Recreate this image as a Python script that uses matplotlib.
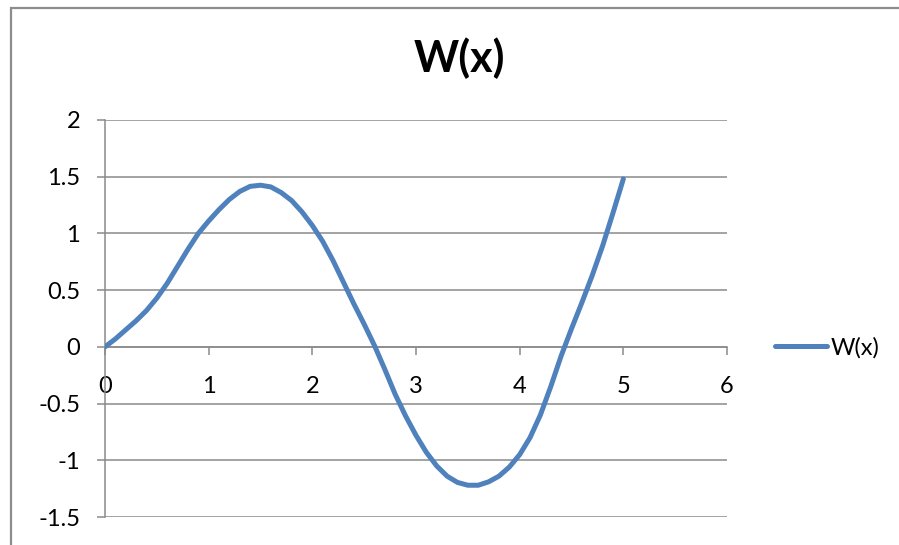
"""
W(x) line chart, Excel-style look.
"""

import matplotlib
matplotlib.use("Agg")
import matplotlib.pyplot as plt
from matplotlib.patches import Rectangle


X_VALUES = [0.0, 0.1, 0.2, 0.3, 0.4, 0.5, 0.6, 0.7, 0.8, 0.9,
            1.0, 1.1, 1.2, 1.3, 1.4, 1.5, 1.6, 1.7, 1.8, 1.9,
            2.0, 2.1, 2.2, 2.3, 2.4, 2.5, 2.6, 2.7, 2.8, 2.9,
            3.0, 3.1, 3.2, 3.3, 3.4, 3.5, 3.6, 3.7, 3.8, 3.9,
            4.0, 4.1, 4.2, 4.3, 4.4, 4.5, 4.6, 4.7, 4.8, 4.9, 5.0]
W_VALUES = [0.00, 0.07, 0.15, 0.23, 0.32, 0.43, 0.56, 0.71, 0.86, 1.00,
            1.11, 1.21, 1.30, 1.37, 1.415, 1.425, 1.41, 1.36, 1.29, 1.19,
            1.07, 0.93, 0.76, 0.57, 0.38, 0.20, 0.01, -0.20, -0.42, -0.61,
            -0.78, -0.93, -1.05, -1.14, -1.195, -1.22, -1.22, -1.19, -1.14, -1.06,
            -0.95, -0.80, -0.60, -0.35, -0.08, 0.16, 0.39, 0.63, 0.89, 1.18, 1.48]

X_TICKS = [0, 1, 2, 3, 4, 5, 6]
Y_TICKS = [-1.5, -1, -0.5, 0, 0.5, 1, 1.5, 2]
Y_LABELS = ["-1.5", "-1", "-0.5", "0", "0.5", "1", "1.5", "2"]

TITLE = "W(x)"
SERIES = "W(x)"

LINE_COLOR = "#4F81BD"
GRID_COLOR = "#8A8A8A"
FONT = ["Lato", "DejaVu Sans"]

W, H = 899, 545

plt.rcParams["font.family"] = FONT

fig = plt.figure(figsize=(W / 100, H / 100), dpi=100)
ax = fig.add_axes([105 / W, 1 - 517 / H, (727 - 105) / W, (517 - 120) / H])

ax.plot(X_VALUES, W_VALUES, color=LINE_COLOR, lw=3.6,
        solid_capstyle="round", solid_joinstyle="round", label=SERIES, zorder=3)

ax.set_xlim(0, 6)
ax.set_ylim(-1.5, 2)

# horizontal gridlines only
ax.set_yticks(Y_TICKS)
ax.set_yticklabels(Y_LABELS)
ax.yaxis.grid(True, color=GRID_COLOR, lw=1.1)
ax.set_axisbelow(True)

ax.set_xticks(X_TICKS)
ax.set_xticklabels([str(t) for t in X_TICKS])

for side in ("top", "right"):
    ax.spines[side].set_visible(False)
ax.spines["left"].set_color(GRID_COLOR)
ax.spines["left"].set_linewidth(1.1)
ax.spines["bottom"].set_position(("data", 0))
ax.spines["bottom"].set_color(GRID_COLOR)
ax.spines["bottom"].set_linewidth(1.1)

ax.tick_params(axis="y", direction="out", length=6, width=1.1,
               color=GRID_COLOR, pad=12, labelsize=17, labelcolor="black")
ax.tick_params(axis="x", direction="out", length=6, width=1.1,
               color=GRID_COLOR, pad=15, labelsize=17, labelcolor="black")

fig.text(459 / W, 1 - 72 / H, TITLE, ha="center", va="baseline",
         fontsize=31, fontweight="bold")

ax.legend(loc="center left", bbox_to_anchor=(775 / W, 1 - 348 / H),
          bbox_transform=fig.transFigure, frameon=False, fontsize=17,
          handlelength=2.2, handletextpad=0.15, borderpad=0, borderaxespad=0)

# outer chart border (runs off the right and bottom edges)
fig.patches.append(Rectangle((11 / W, -0.1), 1.2, 1.1 - 8 / H,
                             transform=fig.transFigure, fill=False,
                             edgecolor="#8C8C8C", lw=1.6))

fig.savefig("out.png", dpi=100)
